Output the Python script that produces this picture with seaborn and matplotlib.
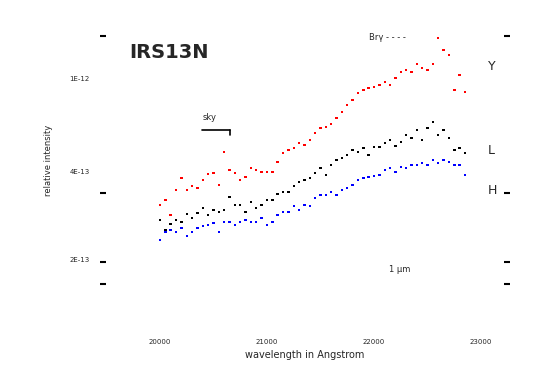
import numpy as np
import pandas as pd
import matplotlib
matplotlib.use('Agg')
import matplotlib.pyplot as plt
import seaborn as sns

# wavelength grid (Angstrom) and three extracted spectra (relative units)
wavelength = [20000, 20050, 20100, 20150, 20200, 20250, 20300, 20350, 20400, 20450,
              20500, 20550, 20600, 20650, 20700, 20750, 20800, 20850, 20900, 20950,
              21000, 21050, 21100, 21150, 21200, 21250, 21300, 21350, 21400, 21450,
              21500, 21550, 21600, 21650, 21700, 21750, 21800, 21850, 21900, 21950,
              22000, 22050, 22100, 22150, 22200, 22250, 22300, 22350, 22400, 22450,
              22500, 22550, 22600, 22650, 22700, 22750, 22800, 22850]

red_flux = [0.95, 1.00, 0.85, 1.10, 1.22, 1.10, 1.14, 1.12, 1.20, 1.26,
            1.27, 1.15, 1.48, 1.30, 1.27, 1.20, 1.23, 1.32, 1.30, 1.28,
            1.28, 1.28, 1.38, 1.47, 1.50, 1.52, 1.57, 1.55, 1.60, 1.67,
            1.72, 1.73, 1.76, 1.82, 1.88, 1.95, 2.00, 2.07, 2.10, 2.12,
            2.13, 2.15, 2.18, 2.15, 2.22, 2.28, 2.30, 2.28, 2.36, 2.32,
            2.30, 2.36, 2.62, 2.50, 2.45, 2.10, 2.25, 2.08]

black_flux = [0.80, 0.70, 0.76, 0.80, 0.78, 0.86, 0.82, 0.87, 0.92, 0.85,
              0.90, 0.88, 0.90, 1.03, 0.95, 0.95, 0.88, 0.98, 0.92, 0.95,
              1.00, 1.00, 1.06, 1.08, 1.08, 1.14, 1.18, 1.20, 1.22, 1.27,
              1.32, 1.25, 1.35, 1.40, 1.42, 1.45, 1.50, 1.48, 1.52, 1.45,
              1.53, 1.53, 1.57, 1.60, 1.54, 1.58, 1.65, 1.62, 1.70, 1.60,
              1.72, 1.78, 1.65, 1.70, 1.62, 1.50, 1.52, 1.47]

blue_flux = [0.60, 0.68, 0.70, 0.68, 0.72, 0.64, 0.68, 0.72, 0.74, 0.75,
             0.77, 0.68, 0.78, 0.78, 0.75, 0.78, 0.80, 0.78, 0.78, 0.82,
             0.75, 0.78, 0.85, 0.88, 0.88, 0.94, 0.90, 0.95, 0.94, 1.02,
             1.05, 1.05, 1.08, 1.05, 1.10, 1.12, 1.15, 1.20, 1.22, 1.23,
             1.24, 1.25, 1.30, 1.32, 1.28, 1.33, 1.32, 1.35, 1.35, 1.37,
             1.35, 1.40, 1.37, 1.40, 1.38, 1.35, 1.35, 1.25]

series_colors = {'red': '#ff0000', 'black': '#000000', 'blue': '#0000ff'}

x_ticks = [20000, 21000, 22000, 23000]
x_ticklabels = ['20000', '21000', '22000', '23000']
y_ticks = [0.16, 0.38, 1.07, 2.64]
y_labels = {'1E-12': 2.21, '4E-13': 1.28, '2E-13': 0.40}

df = pd.DataFrame({
    'wavelength': wavelength * 3,
    'flux': red_flux + black_flux + blue_flux,
    'series': ['red'] * len(red_flux) + ['black'] * len(black_flux) + ['blue'] * len(blue_flux),
})

sns.set_style('white')
plt.rcParams['font.family'] = ['DejaVu Sans']

fig = plt.figure(figsize=(5.39, 3.89), dpi=100)
ax = fig.add_axes([100 / 539, 89 / 389, 410 / 539, 280 / 389])

sns.scatterplot(data=df, x='wavelength', y='flux', hue='series', palette=series_colors,
                marker='s', s=3, linewidth=0, legend=False, ax=ax)

ax.set_xlim(19440, 23270)
ax.set_ylim(0, 2.8)
for s in ax.spines.values():
    s.set_visible(False)

ax.set_xticks(x_ticks, x_ticklabels)
ax.tick_params(axis='x', length=0, pad=28, labelsize=5)
ax.set_yticks(y_ticks)
ax.tick_params(axis='y', direction='in', length=4, width=1.5, left=True, right=True,
               labelleft=False, color='black')

ax.set_xlabel('wavelength in Angstrom', fontsize=7, labelpad=4)
ax.set_ylabel('relative intensity', fontsize=6, labelpad=34)

for lab, yv in y_labels.items():
    ax.text(-0.025, yv, lab, transform=ax.get_yaxis_transform(), ha='right', va='center', fontsize=5)

ax.text(19710, 2.47, 'IRS13N', fontsize=14, fontweight='bold', ha='left', va='center')
ax.text(20400, 1.82, 'sky', fontsize=6, ha='left', va='center')
ax.plot([20393, 20654], [1.70, 1.70], color='black', lw=1.2)
ax.plot([20654, 20654], [1.70, 1.65], color='black', lw=1.2)
ax.text(21950, 2.63, 'Brγ - - - -', fontsize=6, ha='left', va='center')
ax.text(22140, 0.30, '1 μm', fontsize=6, ha='left', va='center')
ax.text(23060, 2.33, 'Y', fontsize=9, ha='left', va='center')
ax.text(23060, 1.50, 'L', fontsize=9, ha='left', va='center')
ax.text(23060, 1.10, 'H', fontsize=9, ha='left', va='center')

plt.savefig('out.png', dpi=100)
plt.close()
